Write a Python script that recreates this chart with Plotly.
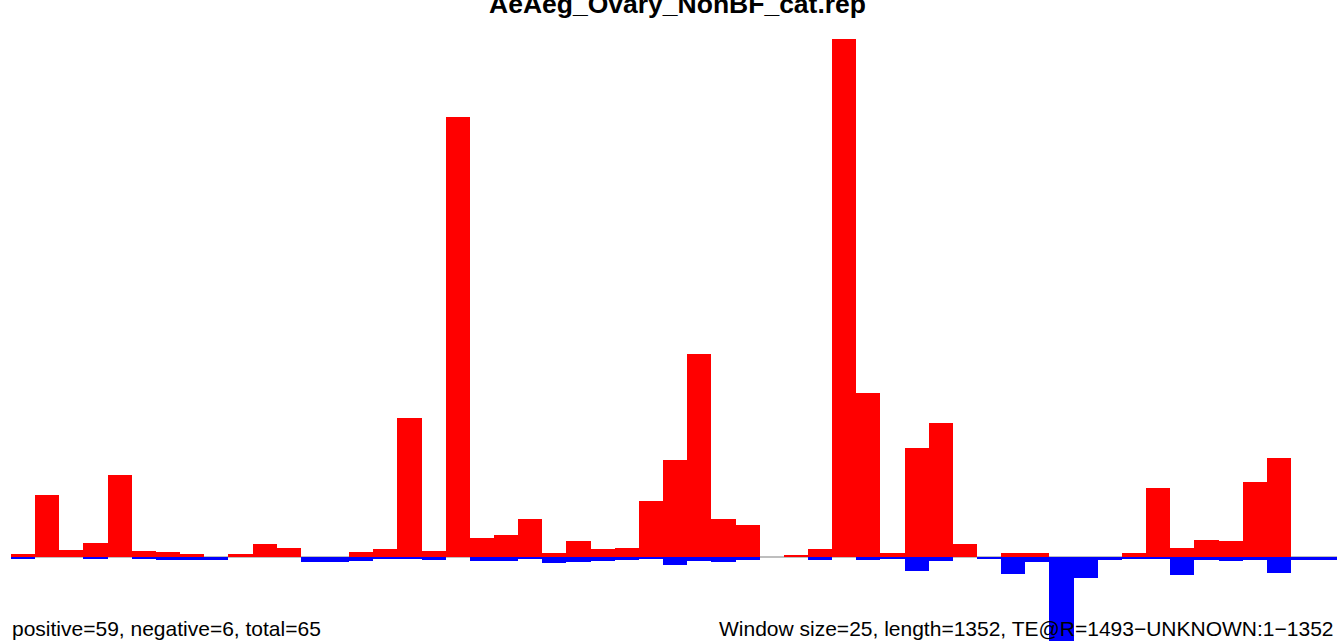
import plotly.graph_objects as go

# --- Fenêtres de 25 pb sur une longueur de 1352 ---
window_size = 25
seq_length = 1352
window_start = [i * window_size for i in range(55)]

# --- Couverture des brins ---
positive = [3, 62, 7, 14, 82, 6, 5, 3, 0, 3,
            13, 9, 0, 0, 5, 8, 139, 6, 440, 19,
            22, 38, 4, 16, 8, 9, 56, 97, 203, 38,
            32, 0, 2, 8, 518, 164, 4, 109, 134, 13,
            0, 4, 4, 0, 0, 0, 4, 69, 9, 17,
            16, 75, 99, 0, 0]
negative = [-2, 0, 0, -2, 0, -2, -3, -3, -3, 0,
            0, 0, -5, -5, -4, -2, -2, -3, 0, -4,
            -4, -2, -6, -5, -4, -3, -2, -8, -4, -5,
            -3, 0, 0, -3, 0, -3, -2, -14, -4, 0,
            -2, -17, -5, -90, -21, -3, -2, -2, -18, -3,
            -4, -3, -16, -3, -3]

title_text = "AeAeg_Ovary_NonBF_cat.rep"
left_note = "positive=59, negative=6, total=65"
right_note = "Window size=25, length=1352, TE@R=1493\u2212UNKNOWN:1\u22121352"

W, H = 1337, 641
centers = [s + window_size / 2 for s in window_start]

fig = go.Figure()

fig.add_trace(go.Bar(
    x=centers, y=positive, width=window_size,
    marker=dict(color="#FF0000", line=dict(width=0)),
    showlegend=False,
))
fig.add_trace(go.Bar(
    x=centers, y=negative, width=window_size,
    marker=dict(color="#0000FF", line=dict(width=0)),
    showlegend=False,
))

# ligne de base grise
fig.add_shape(type="line", xref="paper", x0=11 / W, x1=1,
              yref="y", y0=0, y1=0,
              line=dict(color="#A8A8A8", width=1.5), layer="below")

fig.add_annotation(text="<b>" + title_text + "</b>", xref="paper", yref="paper",
                   x=677 / W, y=1 - 4 / H, xanchor="center", yanchor="middle",
                   showarrow=False, font=dict(size=26.5, color="black"))
fig.add_annotation(text=left_note, xref="paper", yref="paper",
                   x=10 / W, y=1 - 628 / H, xanchor="left", yanchor="middle",
                   showarrow=False, font=dict(size=21, color="black"))
fig.add_annotation(text=right_note, xref="paper", yref="paper",
                   x=717 / W, y=1 - 628 / H, xanchor="left", yanchor="middle",
                   showarrow=False, font=dict(size=21, color="black"))

px_per_unit = 24.15 / window_size
fig.update_layout(
    width=W, height=H,
    margin=dict(l=0, r=0, t=0, b=0),
    barmode="overlay", bargap=0,
    paper_bgcolor="white", plot_bgcolor="white",
    font=dict(family="Liberation Sans, Arial, sans-serif"),
    xaxis=dict(range=[-11 / px_per_unit, (W - 11) / px_per_unit],
               visible=False, fixedrange=True),
    yaxis=dict(range=[-84, 557], visible=False, fixedrange=True),
)

# pas de marge du body : la figure commence au pixel (0, 0)
fig.write_html("out.html", config={"displayModeBar": False},
               post_script="document.body.style.margin='0';")
